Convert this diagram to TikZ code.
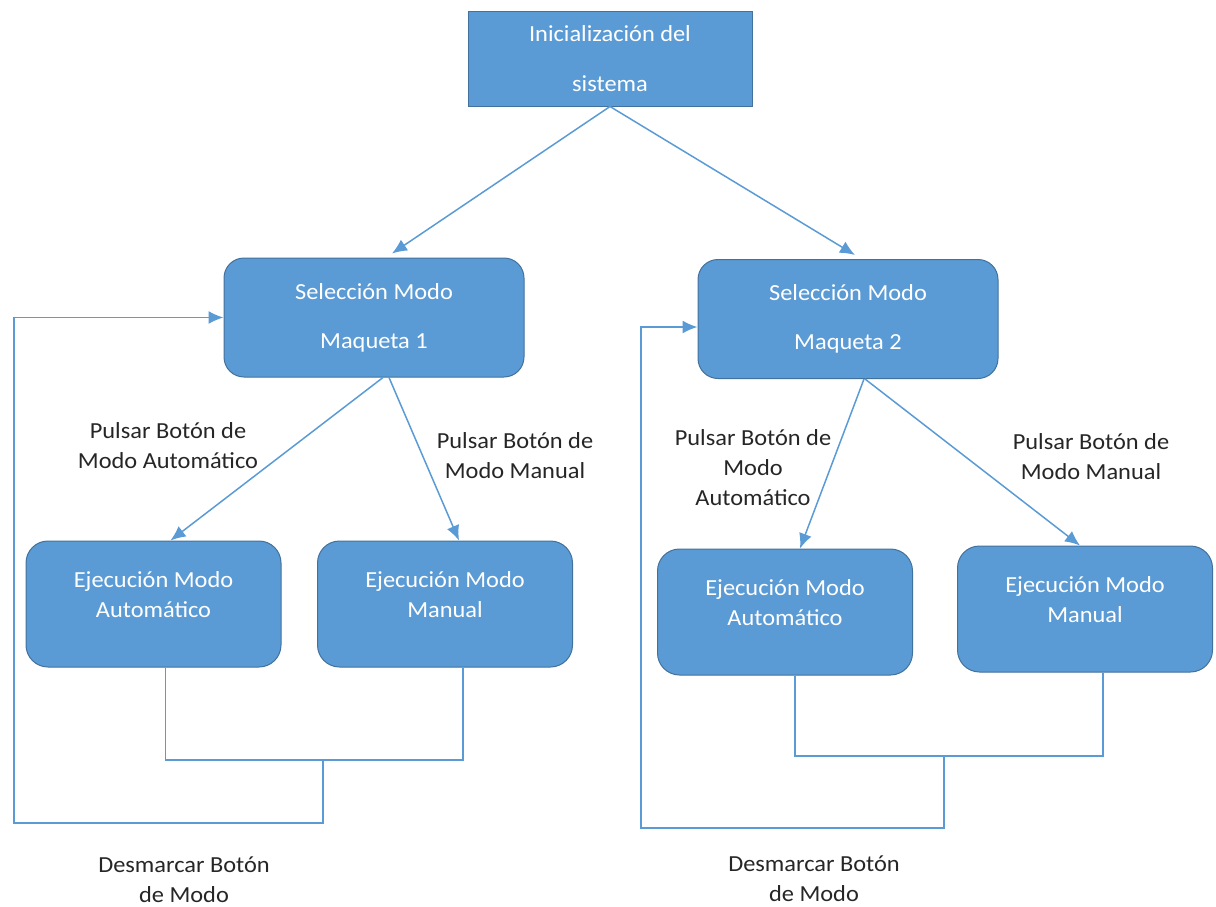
\documentclass[tikz,border=0pt]{standalone}
\usepackage{fontspec}
\setmainfont{Carlito}[FakeStretch=1.06]
\usetikzlibrary{arrows.meta}
\definecolor{boxblue}{HTML}{5B9BD5}
\definecolor{boxedge}{HTML}{41719C}

\begin{document}
\begin{tikzpicture}[x=1pt, y=-1pt,
            every node/.style={font=\fontsize{23}{30}\selectfont},
            box/.style={draw=boxedge, fill=boxblue, line width=1pt, text=white, align=center, inner sep=0pt},
            initbox/.style={box, minimum width=284pt, minimum height=94pt},
            selbox/.style={box, rounded corners=20pt, minimum width=300pt, minimum height=119pt},
            ejbox/.style={box, rounded corners=22pt, minimum width=255pt, minimum height=126pt},
            boxtext/.style={text=white, align=center, inner sep=0pt},
            cond/.style={align=center, text=black!85, inner sep=0pt},
            link/.style={draw=boxblue, line width=1.5pt},
            >={Latex[length=15pt,width=13pt]}]
    \useasboundingbox (0,0) rectangle (1216,907);
    % cajas
    \node[initbox] (init) at (610,59) {Inicialización del\\[20pt]sistema};
    \node[selbox] (sel1) at (374,317.5) {Selección Modo\\[19pt]Maqueta 1};
    \node[selbox] (sel2) at (848,319) {Selección Modo\\[19pt]Maqueta 2};
    \node[ejbox] (ejA1) at (153.5,604) {};
    \node[ejbox] (ejM1) at (445,604) {};
    \node[ejbox] (ejA2) at (785,612) {};
    \node[ejbox] (ejM2) at (1085,609) {};
    \node[boxtext] (ejA1t) at ([yshift=9pt]ejA1) {Ejecución Modo\\Automático};
    \node[boxtext] (ejM1t) at ([yshift=9pt]ejM1) {Ejecución Modo\\Manual};
    \node[boxtext] (ejA2t) at ([yshift=9pt]ejA2) {Ejecución Modo\\Automático};
    \node[boxtext] (ejM2t) at ([yshift=9pt]ejM2) {Ejecución Modo\\Manual};
    % condiciones
    \node[cond] (autoA) at (168,446) {Pulsar Botón de\\Modo Automático};
    \node[cond] (manA) at (515,456) {Pulsar Botón de\\Modo Manual};
    \node[cond] (autoB) at (753,468) {Pulsar Botón de\\Modo\\Automático};
    \node[cond] (manB) at (1091,457) {Pulsar Botón de\\Modo Manual};
    \node[cond] (volA) at (184,880) {Desmarcar Botón\\de Modo};
    \node[cond] (volB) at (814,879) {Desmarcar Botón\\de Modo};
    % flechas
    \draw[link,->] (init.south) -- ([xshift=18pt,yshift=4pt]sel1.north);
    \draw[link,->] (init.south) -- ([xshift=7pt,yshift=4pt]sel2.north);
    \draw[link,->] ([xshift=9pt]sel1.south) -- ([xshift=17pt]ejA1.north);
    \draw[link,->] ([xshift=15pt]sel1.south) -- ([xshift=14pt]ejM1.north);
    \draw[link,->] ([xshift=16pt]sel2.south) -- ([xshift=15pt]ejA2.north);
    \draw[link,->] ([xshift=17pt]sel2.south) -- ([xshift=-5pt]ejM2.north);
    % retorno
    \coordinate (j1) at (323,760);
    \coordinate (r1) at (14,823);
    \coordinate (j2) at (944,756);
    \coordinate (r2) at (641,828);
    \draw[link] ([xshift=12pt]ejA1.south) |- (j1) -| ([xshift=18pt]ejM1.south);
    \draw[link,->] (j1) |- (r1) |- (sel1.west);
    \draw[link] ([xshift=10pt]ejA2.south) |- (j2) -| ([xshift=18pt]ejM2.south);
    \draw[link,->] (j2) |- (r2) |- ([yshift=-8pt]sel2.west);
\end{tikzpicture}
\end{document}
